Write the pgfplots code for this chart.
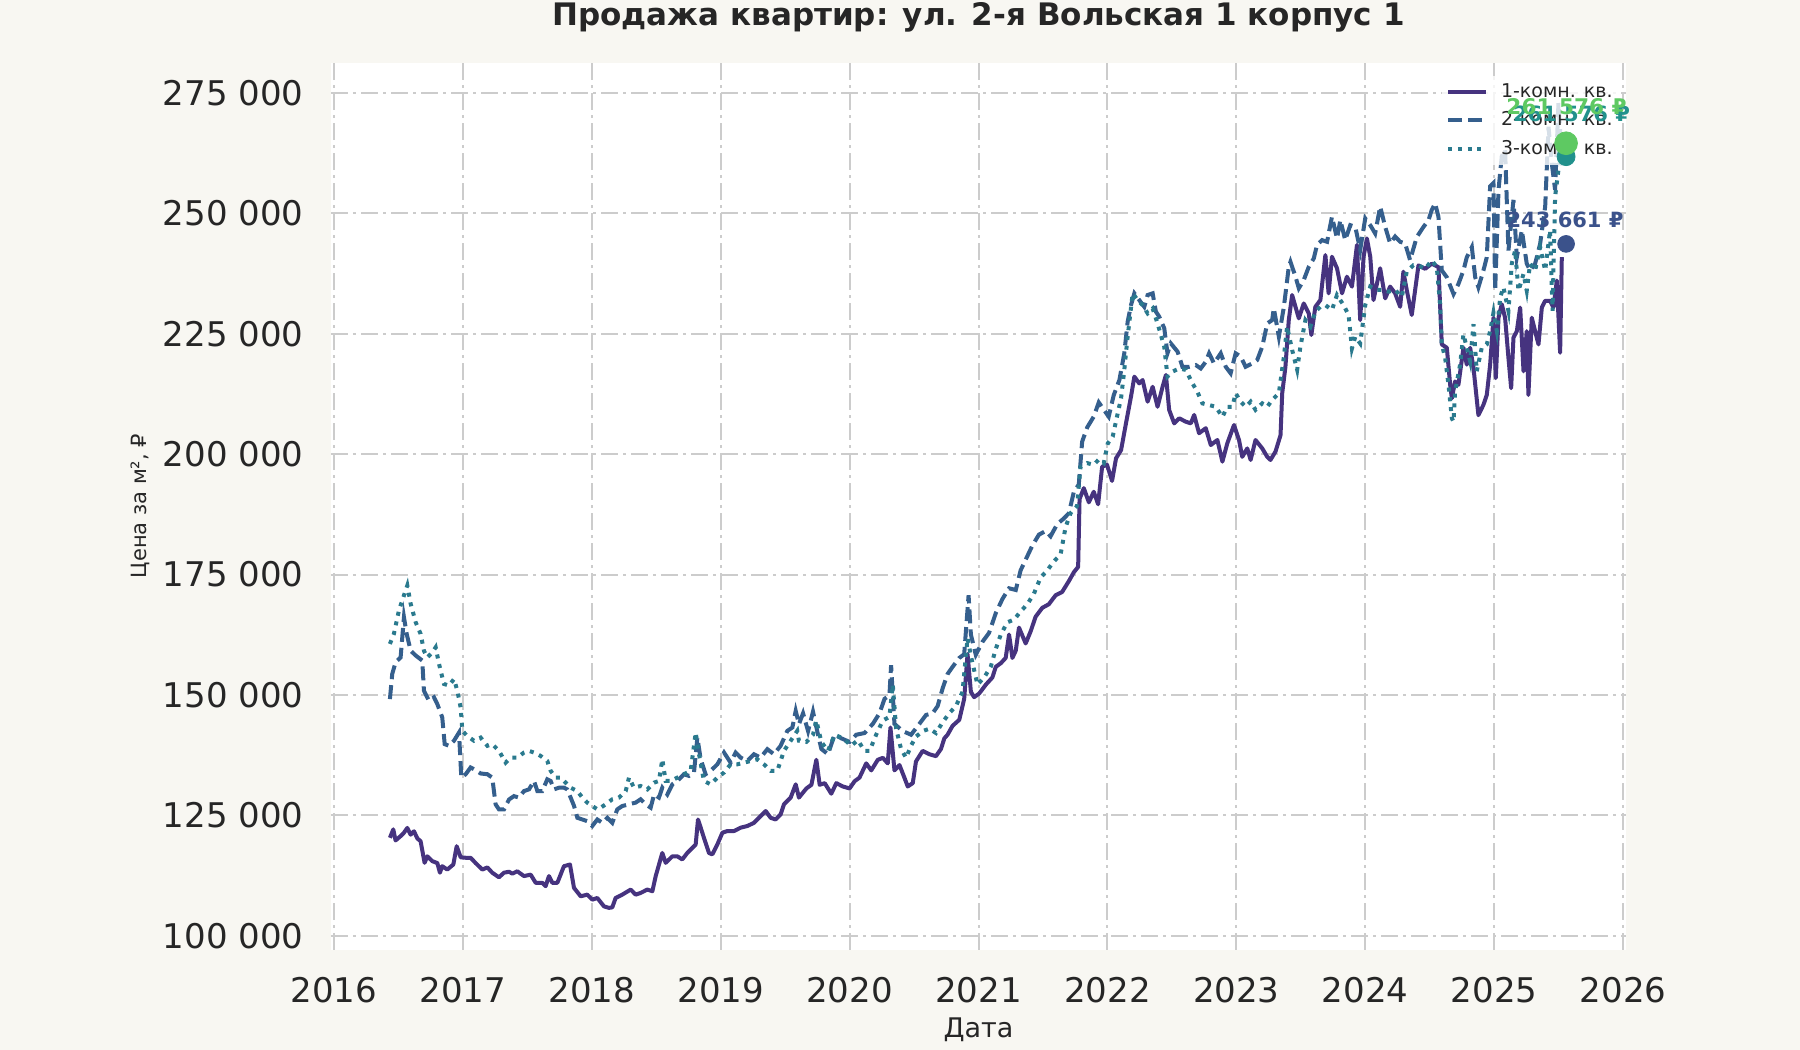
\documentclass[border=0pt]{standalone}
\usepackage{pgfplots}
\pgfplotsset{compat=1.18}
\usepackage{fontspec}
\setmainfont{DejaVu Sans}
\definecolor{figbg}{HTML}{F8F7F2}
\definecolor{textdark}{HTML}{262626}
\definecolor{gridgray}{HTML}{CCCCCC}
\definecolor{cA}{HTML}{46337F}
\definecolor{cB}{HTML}{355F8D}
\definecolor{cC}{HTML}{2A7A8E}
\definecolor{dA}{HTML}{3B528B}
\definecolor{dB}{HTML}{21918C}
\definecolor{dC}{HTML}{5EC962}
\pgfplotsset{
  common/.style={
    at={(165.5pt,50pt)}, anchor=south west,
    width=647.5pt, height=443.5pt, scale only axis,
    xmin=2015.977, xmax=2026.023, ymin=97050, ymax=281230,
  }
}
\begin{document}
\begin{tikzpicture}[x=1pt,y=1pt]
\fill[figbg] (0,0) rectangle (900,525);
\useasboundingbox (0,0) rectangle (900,525);
\begin{axis}[common,
  axis background/.style={fill=white},
  axis line style={draw=none},
  major tick length=0pt,
  scaled y ticks=false, scaled x ticks=false,
  xtick={2016,2017,2018,2019,2020,2021,2022,2023,2024,2025,2026},
  xticklabels={2016,2017,2018,2019,2020,2021,2022,2023,2024,2025,2026},
  ytick={100000,125000,150000,175000,200000,225000,250000,275000},
  yticklabels={100 000,125 000,150 000,175 000,200 000,225 000,250 000,275 000},
  /pgf/number format/assume math mode=true,
  grid=major,
  major grid style={color=gridgray, line width=1pt, dash pattern=on 8.5pt off 2.5pt on 1.5pt off 2.5pt},
  tick label style={font=\fontsize{17}{20}\selectfont, text=textdark},
  xticklabel style={anchor=north, inner sep=0pt, yshift=-13.6pt},
  yticklabel style={anchor=east, inner sep=0pt, xshift=-13.5pt},
  legend style={at={(0.8576,0.986)}, anchor=north west, draw=none, fill=white, fill opacity=0.8, text opacity=1,
    font=\fontsize{9.5}{11}\selectfont, text=textdark, inner xsep=2pt, inner ysep=2pt, row sep=1.6pt},
  legend cell align=left,
  legend image code/.code={\draw[#1] (0pt,0pt) -- (19pt,0pt); \path (23.5pt,0pt);},
]
\addplot[color=cA, line width=2pt, line join=round] coordinates {
(2016.434,120350)(2016.460,122100)(2016.478,119800)(2016.517,120700)(2016.543,121400)(2016.569,122400)(2016.595,121000)(2016.621,121700)(2016.647,120200)(2016.672,119650)(2016.703,115150)(2016.724,116500)(2016.763,115500)(2016.802,115100)(2016.822,113100)(2016.840,114450)(2016.879,113750)(2016.926,114800)(2016.952,118600)(2016.983,116300)(2017.022,116200)(2017.060,116200)(2017.099,115100)(2017.151,113750)(2017.190,114200)(2017.228,113100)(2017.280,112150)(2017.319,113100)(2017.358,113300)(2017.384,112900)(2017.422,113400)(2017.474,112400)(2017.526,112700)(2017.565,111000)(2017.616,111000)(2017.642,110300)(2017.668,112400)(2017.694,111000)(2017.733,111000)(2017.784,114450)(2017.831,114800)(2017.862,109950)(2017.914,108200)(2017.965,108550)(2018.004,107500)(2018.043,107850)(2018.095,106100)(2018.133,105800)(2018.159,105900)(2018.185,107850)(2018.237,108550)(2018.302,109600)(2018.340,108550)(2018.379,108900)(2018.431,109600)(2018.470,109250)(2018.496,112400)(2018.547,117200)(2018.573,115150)(2018.625,116500)(2018.664,116500)(2018.702,115850)(2018.741,117200)(2018.780,118250)(2018.806,118950)(2018.824,124150)(2018.845,122450)(2018.870,120350)(2018.909,117200)(2018.935,116900)(2018.974,118950)(2019.013,121400)(2019.052,121750)(2019.103,121750)(2019.155,122450)(2019.207,122800)(2019.258,123450)(2019.310,124850)(2019.349,125900)(2019.388,124500)(2019.426,124150)(2019.465,125200)(2019.491,127300)(2019.543,128700)(2019.582,131450)(2019.607,128700)(2019.665,130600)(2019.704,131350)(2019.742,136550)(2019.768,131350)(2019.807,131700)(2019.858,129500)(2019.897,131700)(2019.948,131000)(2020.000,130600)(2020.039,132100)(2020.077,132850)(2020.129,135800)(2020.168,134350)(2020.219,136550)(2020.258,136950)(2020.296,135800)(2020.317,143250)(2020.348,134350)(2020.387,135450)(2020.425,132850)(2020.451,131000)(2020.490,131700)(2020.515,136200)(2020.567,138400)(2020.619,137700)(2020.670,137300)(2020.709,138800)(2020.735,141000)(2020.760,141750)(2020.799,143600)(2020.851,144850)(2020.889,149200)(2020.915,158500)(2020.941,150650)(2020.966,149550)(2021.005,150300)(2021.057,152150)(2021.108,153650)(2021.134,155850)(2021.173,156600)(2021.211,157700)(2021.237,162550)(2021.263,157700)(2021.289,159200)(2021.314,164000)(2021.366,160700)(2021.405,163250)(2021.443,166250)(2021.495,168100)(2021.546,168850)(2021.598,170700)(2021.649,171400)(2021.701,173650)(2021.740,175500)(2021.773,176600)(2021.784,190700)(2021.817,192950)(2021.856,190000)(2021.894,192200)(2021.928,189600)(2021.959,197400)(2021.997,197800)(2022.036,194450)(2022.067,199150)(2022.106,200850)(2022.144,206400)(2022.183,211950)(2022.209,216100)(2022.247,214700)(2022.273,215400)(2022.312,210900)(2022.351,214000)(2022.389,209850)(2022.428,214000)(2022.454,216450)(2022.479,209200)(2022.518,206400)(2022.557,207450)(2022.608,206750)(2022.647,206400)(2022.673,208150)(2022.711,204350)(2022.763,205400)(2022.802,201900)(2022.853,202950)(2022.892,198450)(2022.930,202250)(2022.982,206050)(2023.021,202950)(2023.046,199450)(2023.085,201200)(2023.111,198800)(2023.149,202950)(2023.201,201200)(2023.240,199450)(2023.265,198800)(2023.304,200550)(2023.343,203950)(2023.356,212650)(2023.381,218150)(2023.407,227850)(2023.433,233050)(2023.459,230600)(2023.485,228200)(2023.523,231300)(2023.562,229250)(2023.582,224750)(2023.613,230600)(2023.652,232000)(2023.691,241350)(2023.716,233400)(2023.742,241000)(2023.781,238600)(2023.820,233400)(2023.858,236850)(2023.897,234800)(2023.936,243450)(2023.961,227850)(2023.987,241000)(2024.013,244800)(2024.039,241000)(2024.064,232000)(2024.116,238600)(2024.155,232350)(2024.193,234800)(2024.232,233400)(2024.271,230600)(2024.296,237900)(2024.322,234100)(2024.361,228900)(2024.413,239200)(2024.465,238500)(2024.516,239550)(2024.568,238850)(2024.594,222800)(2024.633,222100)(2024.659,214400)(2024.672,211600)(2024.697,215100)(2024.723,214400)(2024.762,222100)(2024.788,218600)(2024.814,222100)(2024.840,217900)(2024.878,208100)(2024.917,210250)(2024.943,212300)(2024.969,218600)(2024.995,228350)(2025.013,215800)(2025.034,228350)(2025.059,231150)(2025.085,228350)(2025.111,220000)(2025.132,213700)(2025.150,224200)(2025.176,225550)(2025.202,230450)(2025.228,217200)(2025.253,225550)(2025.266,212300)(2025.292,228350)(2025.318,225550)(2025.344,222800)(2025.370,230450)(2025.396,231850)(2025.434,231850)(2025.460,230450)(2025.486,236050)(2025.512,221050)(2025.525,240900)
};
\addlegendentry{1-комн. кв.}
\addplot[color=cB, line width=2pt, dash pattern=on 7pt off 3pt] coordinates {
(2016.434,149150)(2016.452,154350)(2016.478,156800)(2016.517,157800)(2016.543,166150)(2016.564,162700)(2016.595,159200)(2016.634,158200)(2016.685,157150)(2016.698,150900)(2016.737,148800)(2016.776,149500)(2016.802,148100)(2016.840,145350)(2016.859,139800)(2016.892,139450)(2016.931,140500)(2016.970,142200)(2016.988,132850)(2017.022,133550)(2017.060,134950)(2017.086,134600)(2017.138,133700)(2017.190,133550)(2017.228,132850)(2017.254,127300)(2017.280,126250)(2017.319,126250)(2017.358,128300)(2017.396,129000)(2017.435,128700)(2017.474,130050)(2017.513,130400)(2017.552,132150)(2017.578,130050)(2017.616,130050)(2017.655,132500)(2017.681,132150)(2017.707,130400)(2017.746,130750)(2017.784,130750)(2017.810,130400)(2017.836,128700)(2017.862,127000)(2017.888,124500)(2017.927,124150)(2017.965,123800)(2018.004,122800)(2018.043,124150)(2018.082,123450)(2018.121,124500)(2018.159,123450)(2018.198,126250)(2018.237,126950)(2018.289,127300)(2018.340,127650)(2018.379,128350)(2018.418,127300)(2018.457,126600)(2018.483,129350)(2018.521,128700)(2018.547,130750)(2018.586,129350)(2018.625,131450)(2018.664,132150)(2018.715,133550)(2018.754,133200)(2018.793,133900)(2018.819,141150)(2018.845,136650)(2018.883,133550)(2018.922,134250)(2018.974,135600)(2019.026,138050)(2019.077,135950)(2019.116,138050)(2019.155,137000)(2019.207,136300)(2019.258,137700)(2019.310,137000)(2019.362,138750)(2019.413,137700)(2019.465,139450)(2019.517,142550)(2019.556,143250)(2019.582,146700)(2019.607,143950)(2019.639,146200)(2019.678,142500)(2019.716,146550)(2019.755,141750)(2019.781,138800)(2019.832,137700)(2019.884,141750)(2019.936,141000)(2020.000,140250)(2020.052,141750)(2020.116,142100)(2020.180,144000)(2020.232,146200)(2020.271,149200)(2020.309,149900)(2020.322,156200)(2020.348,144000)(2020.412,142500)(2020.477,141750)(2020.541,144000)(2020.593,145850)(2020.644,146200)(2020.683,147700)(2020.722,151400)(2020.760,154350)(2020.799,155850)(2020.851,157700)(2020.889,158450)(2020.923,170700)(2020.941,162550)(2020.979,158350)(2021.031,161050)(2021.082,162900)(2021.134,167000)(2021.186,169950)(2021.237,172150)(2021.289,171800)(2021.327,175900)(2021.366,178100)(2021.418,181050)(2021.469,183300)(2021.521,184050)(2021.559,182950)(2021.611,185500)(2021.662,186650)(2021.701,187750)(2021.740,192200)(2021.778,193700)(2021.804,202600)(2021.843,205550)(2021.894,207800)(2021.933,210750)(2021.972,209250)(2022.010,207800)(2022.049,212250)(2022.093,215400)(2022.131,220950)(2022.157,227500)(2022.183,230950)(2022.209,233400)(2022.247,232000)(2022.286,230600)(2022.312,233050)(2022.351,233400)(2022.376,229600)(2022.402,228550)(2022.441,226150)(2022.466,220950)(2022.492,223000)(2022.544,221300)(2022.582,218150)(2022.634,218150)(2022.686,218500)(2022.724,217800)(2022.763,219200)(2022.789,220950)(2022.827,218850)(2022.879,220950)(2022.918,218150)(2022.956,216800)(2022.995,220950)(2023.034,220250)(2023.072,218150)(2023.124,218850)(2023.162,219550)(2023.201,222300)(2023.240,227150)(2023.278,227850)(2023.291,230300)(2023.330,224400)(2023.369,230600)(2023.407,238900)(2023.420,239950)(2023.459,236850)(2023.485,234450)(2023.523,236150)(2023.562,238900)(2023.601,240650)(2023.626,243450)(2023.665,244450)(2023.704,244100)(2023.742,249300)(2023.781,244800)(2023.807,248600)(2023.845,244450)(2023.884,247550)(2023.923,247200)(2023.961,242400)(2024.000,248950)(2024.039,247550)(2024.077,245850)(2024.116,251400)(2024.155,247200)(2024.193,243800)(2024.232,245200)(2024.271,244100)(2024.309,243800)(2024.348,240300)(2024.400,245100)(2024.452,247200)(2024.491,248600)(2024.516,250700)(2024.542,252100)(2024.568,249300)(2024.594,238150)(2024.633,236750)(2024.685,233250)(2024.723,235350)(2024.762,238150)(2024.788,240900)(2024.827,243000)(2024.853,236750)(2024.878,234650)(2024.917,238150)(2024.943,240900)(2024.969,255600)(2024.995,256300)(2025.008,233950)(2025.034,254900)(2025.059,261850)(2025.085,263250)(2025.111,242300)(2025.150,252800)(2025.176,240900)(2025.215,246500)(2025.253,239550)(2025.279,238150)(2025.318,239550)(2025.357,243700)(2025.396,251400)(2025.422,268000)(2025.447,260450)(2025.473,254900)(2025.499,272900)(2025.525,261500)
};
\addlegendentry{2-комн. кв.}
\addplot[color=cC, line width=2pt, dash pattern=on 2pt off 2.9pt] coordinates {
(2016.434,160600)(2016.465,162700)(2016.504,167550)(2016.530,169650)(2016.569,172750)(2016.595,168950)(2016.634,165100)(2016.672,162700)(2016.698,159200)(2016.724,157800)(2016.763,158850)(2016.789,159900)(2016.815,156450)(2016.853,152300)(2016.892,151950)(2016.931,153300)(2016.957,150900)(2016.983,147400)(2016.996,142550)(2017.034,141500)(2017.086,140500)(2017.138,141150)(2017.190,139450)(2017.228,139800)(2017.280,138400)(2017.332,135950)(2017.371,137000)(2017.422,137000)(2017.474,138050)(2017.513,138400)(2017.552,138050)(2017.603,137350)(2017.655,136300)(2017.681,134250)(2017.720,132850)(2017.759,132850)(2017.797,131800)(2017.836,130750)(2017.888,130050)(2017.927,128700)(2017.965,127650)(2018.004,126950)(2018.043,126250)(2018.069,126600)(2018.108,127300)(2018.159,128350)(2018.211,128700)(2018.263,130050)(2018.289,132850)(2018.327,130750)(2018.379,131100)(2018.431,130400)(2018.483,131800)(2018.521,132150)(2018.547,136650)(2018.573,132150)(2018.612,132150)(2018.664,132850)(2018.715,133550)(2018.767,134250)(2018.806,142200)(2018.832,137700)(2018.870,132150)(2018.922,131450)(2018.974,132850)(2019.026,133900)(2019.077,135600)(2019.129,135600)(2019.181,135950)(2019.232,136300)(2019.284,136650)(2019.336,135600)(2019.388,134250)(2019.439,134250)(2019.491,138400)(2019.543,140500)(2019.594,142550)(2019.607,140500)(2019.665,140250)(2019.716,141750)(2019.742,144700)(2019.781,140250)(2019.832,138400)(2019.884,141750)(2019.948,141000)(2020.013,139500)(2020.064,140600)(2020.116,138400)(2020.155,138400)(2020.206,141750)(2020.258,144700)(2020.309,145450)(2020.335,152150)(2020.361,143000)(2020.399,138800)(2020.438,136950)(2020.477,139500)(2020.515,141350)(2020.567,142500)(2020.619,143000)(2020.670,142100)(2020.722,144350)(2020.773,146200)(2020.825,147700)(2020.876,150650)(2020.915,161800)(2020.941,158100)(2020.992,152150)(2021.044,153650)(2021.095,155850)(2021.134,159550)(2021.173,162550)(2021.224,165100)(2021.276,165650)(2021.327,167350)(2021.379,168850)(2021.430,171050)(2021.482,174400)(2021.534,175900)(2021.585,177750)(2021.637,179200)(2021.675,184800)(2021.714,187750)(2021.765,189250)(2021.791,197400)(2021.843,198150)(2021.894,197800)(2021.933,198900)(2021.972,198150)(2022.003,202250)(2022.041,203650)(2022.080,208500)(2022.106,211600)(2022.131,217500)(2022.157,224400)(2022.196,233400)(2022.235,232000)(2022.273,230950)(2022.312,229250)(2022.351,230250)(2022.389,227150)(2022.441,222300)(2022.466,216100)(2022.505,217150)(2022.557,217800)(2022.608,217500)(2022.660,214700)(2022.698,212950)(2022.737,210550)(2022.789,210200)(2022.840,209850)(2022.892,207750)(2022.930,209850)(2022.969,209850)(2022.995,212650)(2023.034,210900)(2023.072,209850)(2023.111,210900)(2023.149,209200)(2023.201,210550)(2023.240,209850)(2023.278,211250)(2023.330,212650)(2023.369,220250)(2023.394,226500)(2023.433,221650)(2023.472,217500)(2023.497,222300)(2023.536,227850)(2023.575,226500)(2023.613,229600)(2023.652,230600)(2023.691,230950)(2023.742,229950)(2023.781,233050)(2023.832,230950)(2023.871,228900)(2023.897,221950)(2023.923,224400)(2023.961,223000)(2024.000,230950)(2024.039,234800)(2024.090,234100)(2024.142,234100)(2024.180,233750)(2024.232,234100)(2024.284,232700)(2024.322,237900)(2024.374,239250)(2024.413,239200)(2024.465,238500)(2024.516,240250)(2024.555,238850)(2024.581,231150)(2024.594,222800)(2024.620,220000)(2024.646,214400)(2024.672,207450)(2024.685,206750)(2024.697,213000)(2024.736,218600)(2024.762,224900)(2024.788,222100)(2024.814,219300)(2024.840,227000)(2024.865,217200)(2024.904,222100)(2024.943,222800)(2024.969,225550)(2024.995,229400)(2025.021,225550)(2025.047,232550)(2025.072,234650)(2025.111,229750)(2025.137,239550)(2025.163,242300)(2025.189,233950)(2025.228,237450)(2025.253,233950)(2025.279,239550)(2025.318,238150)(2025.357,243000)(2025.396,238150)(2025.434,246500)(2025.453,229750)(2025.473,253500)(2025.499,259050)(2025.525,263000)
};
\addlegendentry{3-комн. кв.}
\end{axis}
\begin{axis}[common, hide axis, clip=false]
\addplot[only marks, mark=*, mark size=4.2pt, color=dA] coordinates {(2025.558,243661)};
\addplot[only marks, mark=*, mark size=4.5pt, color=dB] coordinates {(2025.558,261780)};
\addplot[only marks, mark=*, mark size=5.7pt, color=dC] coordinates {(2025.558,264560)};
\node[font=\bfseries\fontsize{10.5}{12}\selectfont, text=dA] at (axis cs:2025.55,248630) {243 661 ₽};
\node[font=\bfseries\fontsize{10.5}{12}\selectfont, text=dB] at (axis cs:2025.60,270700) {261 576 ₽};
\node[font=\bfseries\fontsize{10.8}{12}\selectfont, text=dC] at (axis cs:2025.562,272090) {261 576 ₽};
\end{axis}
\node[font=\bfseries\fontsize{15.5}{18}\selectfont, text=textdark, anchor=base] at (489.25,512.4) {Продажа квартир: ул. 2-я Вольская 1 корпус 1};
\node[rotate=90, font=\fontsize{10.5}{12}\selectfont, text=textdark] at (70,272) {Цена за м², ₽};
\node[font=\fontsize{13.5}{16}\selectfont, text=textdark, anchor=base] at (489.25,6.2) {Дата};
\end{tikzpicture}
\end{document}
